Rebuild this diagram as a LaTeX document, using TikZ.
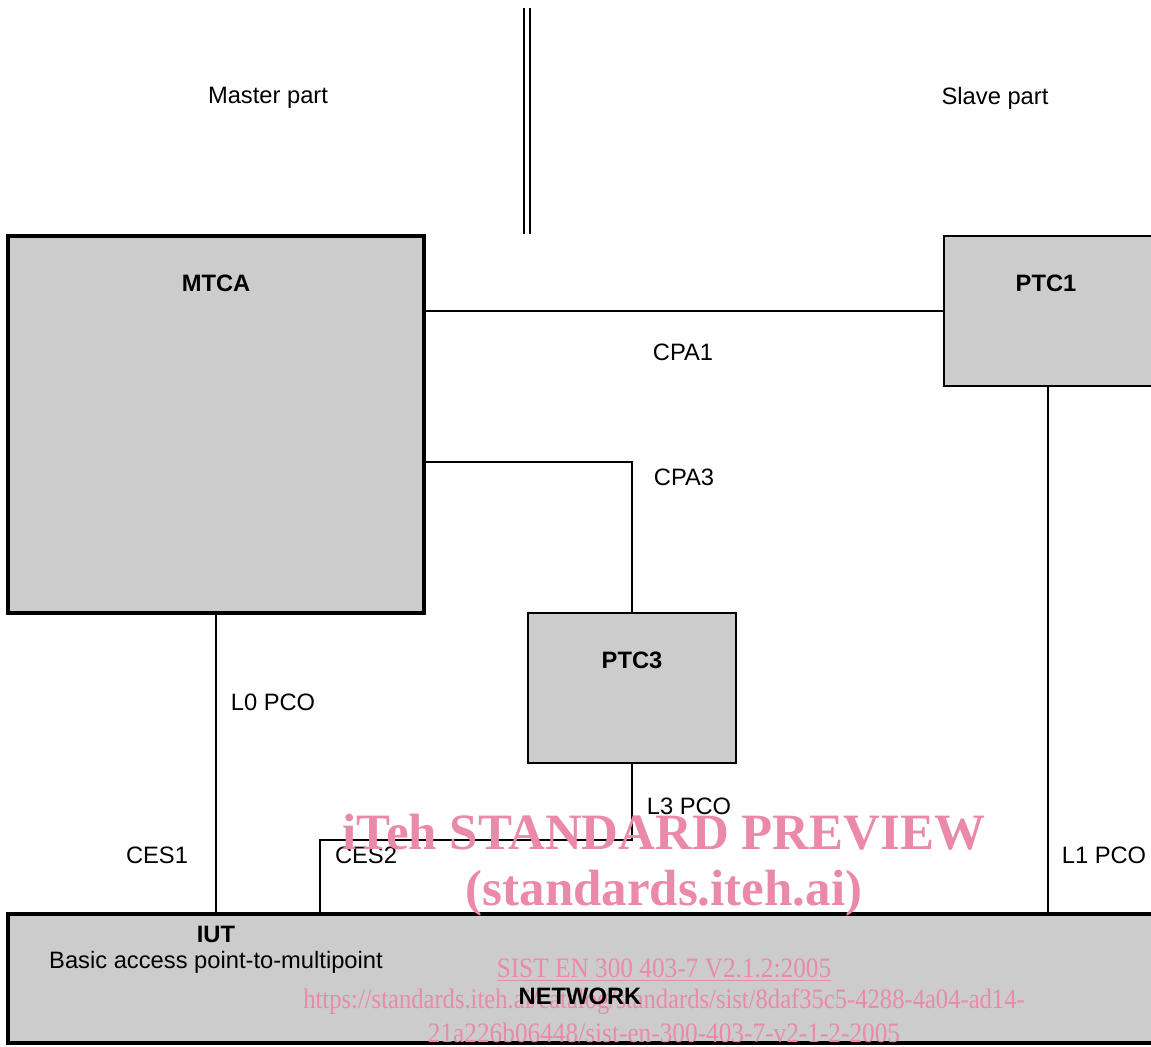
\documentclass[tikz,border=0pt]{standalone}
\usepackage{fontspec}
\setmainfont{Liberation Sans}
\newfontfamily\wmfont{Liberation Serif}
\definecolor{boxGrey}{HTML}{CCCCCC}
\definecolor{wmPink}{RGB}{234,138,168}

\begin{document}
\begin{tikzpicture}[
    x=0.02cm, y=-0.02cm,
    % Define the style for the grey blocks
    blockNode/.style={
        draw=black,
        fill=boxGrey,
        line width=1.3pt,
        inner sep=0pt
    },
    % Define the style for the bold names inside the blocks
    blockLabel/.style={
        font=\fontsize{13.5}{16}\selectfont\bfseries
    },
    % Define the style for the plain labels
    wireLabel/.style={
        font=\fontsize{13.5}{16}\selectfont
    },
    % Define the style for the connections
    wireStyle/.style={
        draw=black,
        line width=1.1pt
    },
    % Define the style for the preview stamp
    stampBig/.style={
        text=wmPink,
        font=\wmfont\fontsize{29}{34}\selectfont\bfseries
    },
    stampSmall/.style={
        text=wmPink,
        font=\wmfont\fontsize{16}{19}\selectfont
    }
]

    % --- SIZES ---
    % One reference pixel
    \def\px{0.02cm}

    \useasboundingbox (0,0) rectangle (1151,1046);

    % --- MASTER / SLAVE DIVIDER ---
    \draw[line width=1.1pt, double distance=1.8pt] (527,8) -- (527,234);
    \node[wireLabel] (master) at (268,98) {Master part};
    \node[wireLabel] (slave) at (995,98) {Slave part};

    % --- BLOCKS ---
    \node[blockNode, line width=2.3pt, minimum width=416*\px, minimum height=377*\px] (mtca) at (216,424.5) {};
    \node[blockNode, minimum width=208*\px, minimum height=150*\px] (ptc1) at (1048,311) {};
    \node[blockNode, minimum width=208*\px, minimum height=150*\px] (ptc3) at (632,688) {};
    \node[blockNode, line width=2.3pt, minimum width=1147*\px, minimum height=129*\px] (iut) at (581.5,978.5) {};

    \node[blockLabel] at (216,283) {MTCA};
    \node[blockLabel] at (1046,283) {PTC1};
    \node[blockLabel] at (632,660) {PTC3};
    \node[blockLabel] at (216,934) {IUT};
    \node[wireLabel] at (216,962) {Basic access point-to-multipoint};

    % --- CONNECTIONS ---
    \coordinate (cpa3) at (424,462);
    \coordinate (ces2) at (320,840);

    % CPA1 (MTCA - PTC1)
    \draw[wireStyle] (ptc1.west) -- (ptc1.west -| mtca.east);
    % CPA3 (MTCA - PTC3)
    \draw[wireStyle] (cpa3) -| (ptc3.north);
    % L0, L1 and L3 down to the network
    \draw[wireStyle] (mtca.south) -- (mtca.south |- iut.north);
    \draw[wireStyle] (ptc1.south) -- (ptc1.south |- iut.north);
    \draw[wireStyle] (ptc3.south) |- (ces2) -- (ces2 |- iut.north);

    \node[wireLabel] at (683,352) {CPA1};
    \node[wireLabel] at (684,477) {CPA3};
    \node[wireLabel] at (273,702) {L0 PCO};
    \node[wireLabel] at (157,855) {CES1};
    \node[wireLabel] at (689,806) {L3 PCO};
    \node[wireLabel] at (366,855) {CES2};
    \node[wireLabel] at (1104,855) {L1 PCO};

    % --- PREVIEW STAMP ---
    \node[stampBig] (stamp1) at (664,832) {iTeh STANDARD PREVIEW};
    \node[stampBig] (stamp2) at (664,893) {(standards.iteh.ai)};
    \node[stampSmall] (stamp3) at (664,970) {\scalebox{0.9}[1]{\underline{SIST EN 300 403-7 V2.1.2:2005}}};
    \node[stampSmall] (stamp4) at (664,1002) {\scalebox{0.875}[1]{https://standards.iteh.ai/catalog/standards/sist/8daf35c5-4288-4a04-ad14-}};
    \node[stampSmall] (stamp5) at (664,1033) {\scalebox{0.9}[1]{21a226b06448/sist-en-300-403-7-v2-1-2-2005}};

    \node[blockLabel] at (580,996) {NETWORK};

\end{tikzpicture}
\end{document}
